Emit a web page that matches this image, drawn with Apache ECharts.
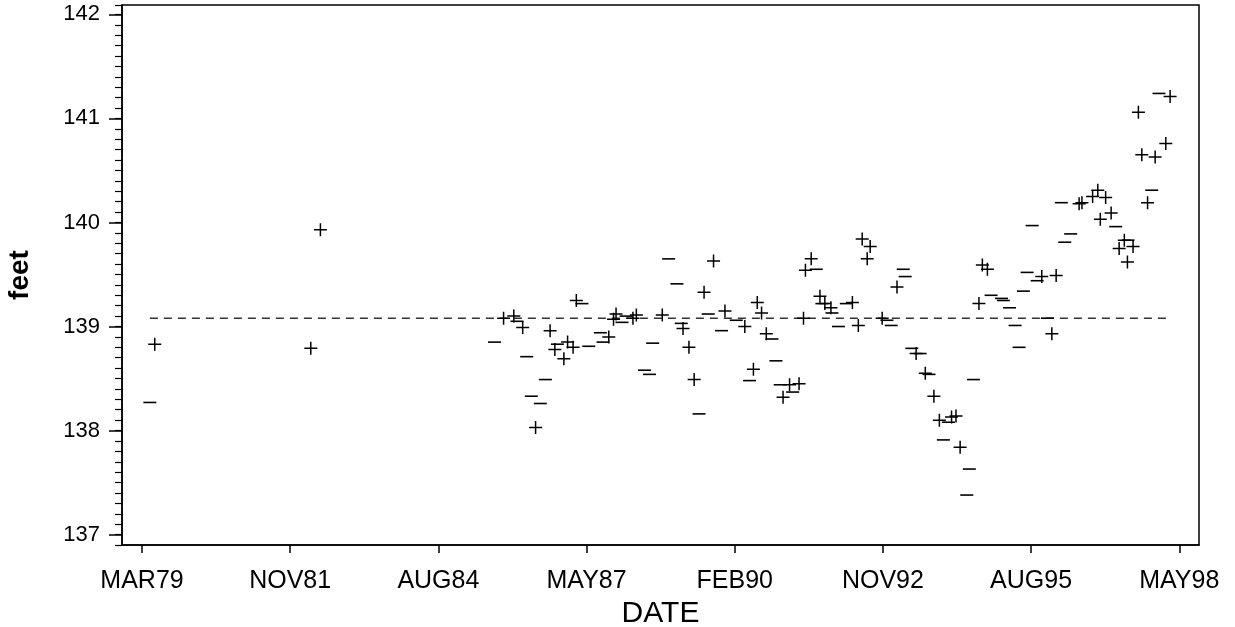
<!DOCTYPE html>
<html>
<head>
<meta charset="utf-8">
<script src="https://cdn.jsdelivr.net/npm/echarts@6/dist/echarts.min.js"></script>
<style>
  html, body { margin: 0; padding: 0; background: #fff; }
  #main { width: 1235px; height: 627px; }
</style>
</head>
<body>
<div id="main"></div>
<script>
// dates are day numbers counted from 1 Jan 1960
var plusDate = [7086, 8139, 8204, 9440, 9509, 9569, 9656, 9754, 9786, 9847, 9872, 9909, 9931,
    10150, 10199, 10182, 10313, 10336, 10511, 10651, 10691, 10726, 10793, 10857, 10934,
    11068, 11152, 11181, 11213, 11126, 11326, 11370, 11434, 11464, 11477, 11516, 11575,
    11608, 11649, 11794, 11834, 11860, 11914, 11894, 11995, 12095, 12224, 12286, 12344,
    12381, 12463, 12493, 12521, 12671, 12705, 12648, 13072, 13169, 13140, 13324, 13343,
    13415, 13450, 13503, 13467, 13540, 13629, 13594, 13688, 13650, 13786, 13724, 13938,
    13909, 13747, 13837];
var plusFeet = [138.83, 138.79, 139.93, 139.08, 139.10, 138.99, 138.03, 138.96, 138.78, 138.69, 138.85, 138.80, 139.25,
    138.90, 139.12, 139.07, 139.08, 139.11, 139.11, 138.98, 138.80, 138.49, 139.33, 139.63, 139.15,
    139.00, 139.23, 139.13, 138.93, 138.59, 138.32, 138.44, 138.45, 139.08, 139.54, 139.65, 139.29,
    139.22, 139.18, 139.23, 139.01, 139.84, 139.77, 139.65, 139.08, 139.38, 138.74, 138.55, 138.33,
    138.10, 138.13, 138.14, 137.84, 139.59, 139.55, 139.22, 139.48, 139.49, 138.93, 140.18, 140.19,
    140.25, 140.31, 140.24, 140.03, 140.09, 139.83, 139.75, 139.77, 139.62, 140.19, 141.06, 141.21,
    140.76, 140.65, 140.63];

var minusDate = [7053, 9379, 9530, 9596, 9627, 9688, 9722, 9803, 9969, 10015, 10093, 10111,
    10239, 10267, 10391, 10425, 10446, 10554, 10610, 10639, 10759, 10821, 10911, 11010,
    11100, 11251, 11278, 11307, 11391, 11550, 11588, 11656, 11753, 11700, 12027, 12056,
    12137, 12150, 12195, 12251, 12311, 12442, 12408, 12583, 12566, 12611, 12730, 12800,
    12813, 12854, 12892, 12919, 12973, 12948, 13007, 13041, 13110, 13204, 13267, 13227,
    13571, 13814, 13863, 13654];
var minusFeet = [138.27, 138.85, 139.05, 138.71, 138.33, 138.26, 138.49, 138.83, 139.22, 138.81, 138.94, 138.85,
    139.04, 139.10, 138.58, 138.54, 138.84, 139.65, 139.41, 139.03, 138.16, 139.12, 138.96, 139.06,
    138.48, 138.88, 138.67, 138.44, 138.37, 139.55, 139.22, 139.13, 139.22, 139.00, 139.06, 139.01,
    139.55, 139.48, 138.79, 138.74, 138.54, 138.08, 137.91, 137.63, 137.38, 138.49, 139.30, 139.27,
    139.25, 139.18, 139.01, 138.80, 139.52, 139.34, 139.97, 139.44, 139.08, 140.19, 139.89, 139.81,
    139.96, 140.31, 141.24, 139.83];

var tickDays = [7000, 8000, 9000, 10000, 11000, 12000, 13000, 14000];
var tickLabels = ['MAR79', 'NOV81', 'AUG84', 'MAY87', 'FEB90', 'NOV92', 'AUG95', 'MAY98'];
var feetTicks = [137, 138, 139, 140, 141, 142];
var refLevel = 139.08;

var font = 'Liberation Sans, Arial, Helvetica, sans-serif';

function pairs(xs, ys) {
    return xs.map(function (x, i) { return [x, ys[i]]; });
}

var allDates = plusDate.concat(minusDate);
var firstDate = Math.min.apply(null, allDates);
var lastDate = Math.max.apply(null, allDates);

var chartDom = document.getElementById('main');
var myChart = echarts.init(chartDom);
var option;

option = {
    backgroundColor: '#fff',
    animation: false,
    grid: {
        left: 122,
        right: 36,
        top: 5,
        bottom: 82,
        outerBoundsMode: 'none',
        show: true,
        borderColor: '#000',
        borderWidth: 1.5
    },
    xAxis: {
        type: 'value',
        min: 6865,
        max: 14133,
        name: 'DATE',
        nameLocation: 'middle',
        nameGap: 51,
        nameTextStyle: { color: '#000', fontSize: 30, fontFamily: font },
        axisLine: { lineStyle: { color: '#000', width: 1.5 } },
        axisTick: {
            show: true,
            length: 8,
            customValues: tickDays,
            lineStyle: { color: '#000', width: 1.5 }
        },
        axisLabel: {
            customValues: tickDays,
            margin: 24,
            color: '#000',
            fontSize: 25,
            fontFamily: font,
            formatter: function (v) {
                return tickLabels[tickDays.indexOf(v)] || '';
            }
        },
        splitLine: { show: false }
    },
    yAxis: [
        {
            type: 'value',
            min: 136.9,
            max: 142.09,
            name: 'feet',
            nameLocation: 'middle',
            nameRotate: 90,
            nameGap: 88,
            nameTextStyle: { color: '#000', fontSize: 28, fontWeight: 'bold', fontFamily: font },
            axisLine: { show: true, lineStyle: { color: '#000', width: 1.5 } },
            axisTick: {
                show: true,
                length: 13,
                customValues: feetTicks,
                lineStyle: { color: '#000', width: 1.5 }
            },
            axisLabel: {
                customValues: feetTicks,
                margin: 22,
                color: '#000',
                fontSize: 22,
                fontFamily: font
            },
            splitLine: { show: false }
        },
        {
            // minor ticks every 0.1 ft
            type: 'value',
            position: 'left',
            min: 136.9,
            max: 142.09,
            interval: 0.1,
            axisLine: { show: false },
            axisTick: { show: true, length: 7, lineStyle: { color: '#000', width: 1.2 } },
            axisLabel: { show: false },
            splitLine: { show: false }
        }
    ],
    series: [
        {
            name: 'level',
            type: 'line',
            data: [[firstDate, refLevel], [lastDate, refLevel]],
            symbol: 'none',
            silent: true,
            z: 1,
            lineStyle: { color: '#333', width: 1.5, type: [8, 6] }
        },
        {
            name: 'plus',
            type: 'scatter',
            data: pairs(plusDate, plusFeet),
            symbol: 'path://M5.75,0H7.25V5.75H13V7.25H7.25V13H5.75V7.25H0V5.75H5.75Z',
            symbolSize: 13,
            z: 3,
            itemStyle: { color: '#000', opacity: 1 }
        },
        {
            name: 'minus',
            type: 'scatter',
            data: pairs(minusDate, minusFeet),
            symbol: 'rect',
            symbolSize: [13, 1.6],
            z: 3,
            itemStyle: { color: '#000', opacity: 1 }
        }
    ]
};

option && myChart.setOption(option);

window.addEventListener('resize', myChart.resize);
</script>
</body>
</html>
